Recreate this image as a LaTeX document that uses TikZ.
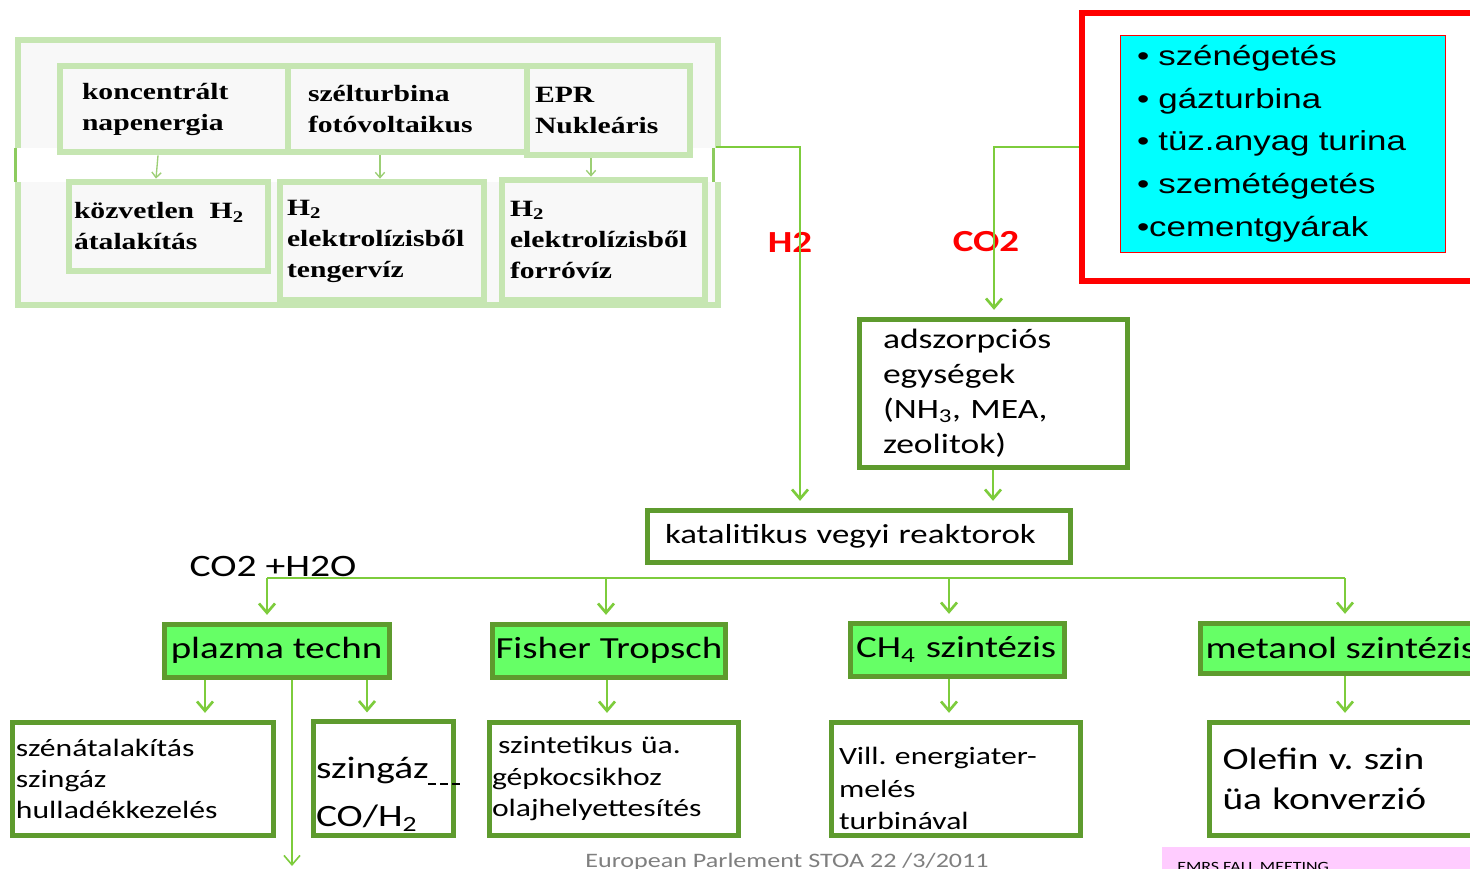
\documentclass[tikz,border=0pt]{standalone}
\usepackage{fontspec}
\setmainfont{Carlito}[FakeStretch=1.27]
\newfontfamily\timesf{Liberation Serif}[FakeStretch=1.27]
\newfontfamily\arialf{Liberation Sans}[FakeStretch=1.27]
\usetikzlibrary{arrows.meta, positioning}
\definecolor{paleframe}{HTML}{C6E6B2}
\definecolor{palefill}{HTML}{F8F8F8}
\definecolor{bandline}{HTML}{8CCB5E}
\definecolor{boxgreen}{HTML}{5E9B2E}
\definecolor{fillgreen}{HTML}{66FF66}
\definecolor{arrowgreen}{HTML}{7DCC3C}
\definecolor{thingreen}{HTML}{9CCF75}
\definecolor{listcyan}{HTML}{00FFFF}
\definecolor{meetpink}{HTML}{FFCCFF}
\definecolor{footgrey}{HTML}{7F7F7F}
\frenchspacing

\begin{document}
\begin{tikzpicture}[x=0.75pt, y=-0.75pt,
    srcbox/.style={draw=paleframe, line width=5pt, fill=palefill, align=left,
        font=\timesf\bfseries\fontsize{17.5}{23.25}\selectfont},
    outbox/.style={draw=boxgreen, line width=3.75pt, fill=white, align=left},
    procbox/.style={draw=boxgreen, line width=3.75pt, fill=fillgreen, inner xsep=2pt,
        font=\fontsize{23}{27}\selectfont},
    conn/.style={draw=arrowgreen, line width=2pt, -{Straight Barb[length=7pt,width=12pt]}, shorten >=5pt},
    thinconn/.style={draw=thingreen, line width=1pt, -{Straight Barb[length=4pt,width=7pt]}},
    flowlbl/.style={text=red, font=\bfseries\fontsize{23}{27}\selectfont}]

    \useasboundingbox (0,0) rectangle (1470,868);
    \clip (0,0) rectangle (1470,868);
    \fill[white] (0,0) rectangle (1470,868);

    % energiaforrasok
    \draw[draw=paleframe, line width=5pt, fill=palefill] (18,40) rectangle (718,305);
    \fill[white] (8,148) rectangle (724,182);
    \draw[bandline, line width=2.25pt] (15,148) -- (15,182) (713,148) -- (713,182);

    \node[srcbox, text width=138pt, inner xsep=16.5pt, minimum height=64.5pt] (sun) at (174,109) {koncentrált\\napenergia};
    \node[srcbox, text width=149.25pt, inner xsep=15pt, minimum height=64.5pt] (wind) at (407.5,109) {szélturbina\\fotóvoltaikus};
    \node[srcbox, text width=110.25pt, inner xsep=6pt, minimum height=66.75pt] (epr) at (608.5,110.5) {EPR\\Nukleáris};
    \node[srcbox, text width=141.75pt, inner xsep=3.75pt, minimum height=66.75pt] (direct) at (168.5,226.5) {közvetlen\ \ H\textsubscript{2}\\átalakítás};
    \node[srcbox, text width=142.5pt, inner xsep=5.25pt, minimum height=88.5pt] (sea) at (382,241) {H\textsubscript{2}\\elektrolízisből\\tengervíz};
    \node[srcbox, text width=140.25pt, inner xsep=6pt, minimum height=90pt] (hot) at (603.5,240) {H\textsubscript{2}\\elektrolízisből\\forróvíz};

    \draw[thinconn] (sun.south -| 158,0) -- (direct.north -| 156,0);
    \draw[thinconn] (wind.south -| 380,0) -- (sea.north -| 380,0);
    \draw[thinconn] (epr.south -| 591,0) -- (hot.north -| 591,0);

    % CO2 forrasok
    \node[draw=red, line width=4.5pt, anchor=north west, minimum width=315pt, minimum height=201pt] (emis) at (1079,10) {};
    \node[draw=red, line width=0.75pt, fill=listcyan, align=left, text width=218.25pt, inner xsep=12.75pt,
        minimum height=162.75pt, font=\arialf\fontsize{20.6}{32}\selectfont] (srclist) at (1282.5,143.5)
        {\textbullet\ szénégetés\\
         \textbullet\ gázturbina\\
         \textbullet\ tüz.anyag turina\\
         \textbullet\ szemétégetés\\
         \textbullet cementgyárak};

    % reaktorok
    \node[outbox, text width=165pt, inner xsep=18pt, minimum height=111pt, font=\fontsize{21}{26.25}\selectfont] (ads) at (993,393)
        {adszorpciós\\egységek\\(NH\textsubscript{3}, MEA,\\zeolitok)};
    \node[outbox, text width=290.25pt, inner xsep=13.5pt, minimum height=39pt, font=\fontsize{20.6}{24}\selectfont] (kat) at (858.5,536)
        {katalitikus vegyi reaktorok};

    \node[flowlbl] (h2lbl) at (790,242) {H2};
    \node[flowlbl] (co2lbl) at (986,242) {CO2};

    \coordinate (h2out) at (716,147);
    \coordinate (h2bend) at (800,147);
    \draw[conn] (h2out) -- (h2bend) -- (h2bend |- kat.north);
    \coordinate (co2bend) at (emis.west -| 994,0);
    \draw[conn] (emis.west) -- (co2bend) -- (co2bend |- ads.north);
    \draw[conn] (ads.south) -- (ads.south |- kat.north);

    % szintezisek
    \node[procbox, minimum width=168.75pt, minimum height=39.75pt] (plz) at (276.5,650.5) {plazma techn};
    \node[procbox, minimum width=174pt, minimum height=39.75pt] (ft) at (609,650.5) {Fisher Tropsch};
    \node[procbox, align=left, text width=151.5pt, inner xsep=4.5pt, minimum height=39.75pt] (ch) at (957,649.5) {CH\textsubscript{4} szintézis};
    \node[procbox, anchor=west, inner xsep=3.75pt, minimum height=37.5pt] (met) at (1198,648) {metanol szintézis};

    \node[font=\fontsize{23.4}{28}\selectfont] (bustxt) at (273,566) {CO2 +H2O};
    \coordinate (busl) at (267,578);
    \coordinate (busr) at (1345,578);
    \draw[arrowgreen, line width=1.5pt] (busl) -- (busr);
    \foreach \xb/\tgt in {267/plz, 606/ft, 949/ch, 1345/met}
        \draw[conn] (\xb,578) -- (\tgt.north -| \xb,0);

    % termekek
    \node[outbox, text width=189.75pt, inner xsep=3pt, minimum height=84.75pt, font=\fontsize{18.7}{23.3}\selectfont] (conv) at (142.5,778.5)
        {szénátalakítás\\szingáz\\hulladékkezelés};
    \node[outbox, text width=100.5pt, inner xsep=2.25pt, minimum height=84.75pt, font=\fontsize{23.3}{36}\selectfont] (syn) at (383,778.5)
        {\rule{0pt}{39pt}szingáz\\CO/H\textsubscript{2}};
    \node[outbox, text width=182.25pt, inner xsep=2.25pt, minimum height=84.75pt, font=\fontsize{18.7}{23.3}\selectfont] (szint) at (613.5,778.5)
        {\hspace*{4.5pt}szintetikus üa.\\gépkocsikhoz\\olajhelyettesítés};
    \node[outbox, text width=174.75pt, inner xsep=6pt, minimum height=84.75pt, font=\fontsize{18.7}{24.4}\selectfont] (vill) at (955.5,778.5)
        {\rule{0pt}{28.5pt}Vill. energiater-\\melés\\turbinával};
    \node[outbox, anchor=west, text width=200.25pt, inner xsep=9.75pt, minimum height=84.75pt, font=\fontsize{23.3}{30}\selectfont] (olef) at (1207,778.5)
        {Olefin v. szin\\üa konverzió};

    \draw[black, line width=2pt, dash pattern=on 6pt off 3pt] (428,784) -- (463,784);

    \draw[conn] (plz.south -| 205,0) -- (conv.north -| 205,0);
    \draw[conn] (plz.south -| 367,0) -- (syn.north -| 367,0);
    \coordinate (plzout) at (292,866);
    \draw[conn, line width=1.2pt, shorten >=0pt] (plz.south -| plzout) -- (plzout);
    \draw[conn] (ft.south -| 607,0) -- (szint.north -| 607,0);
    \draw[conn] (ch.south -| 949,0) -- (vill.north -| 949,0);
    \draw[conn] (met.south -| 1345,0) -- (olef.north -| 1345,0);

    % lablec
    \node[text=footgrey, anchor=base, font=\fontsize{15.4}{18}\selectfont] (foot) at (787,867) {European Parlement STOA 22 /3/2011};
    \node[fill=meetpink, anchor=north west, minimum width=240pt, minimum height=30pt] (mtg) at (1162,847) {};
    \node[anchor=base west, inner sep=0pt, font=\fontsize{10.6}{12}\selectfont] (mtgtxt) at (1177,871) {EMRS FALL MEETING};
\end{tikzpicture}
\end{document}
